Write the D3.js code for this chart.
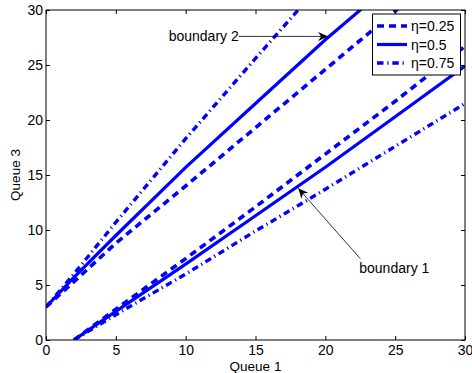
<!DOCTYPE html>
<html><head><meta charset="utf-8">
<script src="https://cdn.jsdelivr.net/npm/d3@7"></script>
<style>body{margin:0;background:#fff}svg{display:block}text{font-family:"Liberation Sans",Arial,sans-serif;fill:#000}</style>
</head><body><svg id="c" width="472" height="373"></svg>
<script>
// ---- data ----
const xTicks = [0, 5, 10, 15, 20, 25, 30];
const yTicks = [0, 5, 10, 15, 20, 25, 30];
const seriesNames = ["\u03b7=0.25", "\u03b7=0.5", "\u03b7=0.75"];
// boundary 2 (upper curves), sampled x positions
const upperX = [0, 2, 5, 10, 15, 20, 25, 30];
const upper025 = [3, 5.3, 8.8, 14.0, 19.3, 24.6, 29.9, 35.2];
const upper050 = [3, 5.7, 9.5, 15.7, 21.5, 27.3, 32.7, 38.2];
const upper075 = [3, 6.0, 10.7, 18.3, 25.6, 32.8, 40.0, 47.2];
// boundary 1 (lower curves)
const lowerX = [2, 5, 10, 15, 20, 25, 30];
const lower025 = [0, 2.8, 7.4, 12.1, 16.9, 21.7, 26.7];
const lower050 = [0, 2.6, 6.9, 11.3, 15.7, 20.3, 24.9];
const lower075 = [0, 2.3, 6.0, 9.9, 13.7, 17.6, 21.5];
// annotations: [label, tipX, tipY, tailX, tailY]
const annotations = [
  ["boundary 2", 20.2, 27.6, 13.8, 27.6],
  ["boundary 1", 18.06, 13.79, 22.5, 7.4]
];

// ---- layout ----
const m = {l: 46, t: 10, r: 465, b: 340};
const svg = d3.select("#c");
const x = d3.scaleLinear().domain([0, 30]).range([m.l, m.r]);
const y = d3.scaleLinear().domain([0, 30]).range([m.b, m.t]);

const styles = [
  {dash: "7,5", w: 3.6},
  {dash: null, w: 3.2},
  {dash: "6.5,3.8,1.2,3.8", w: 3.4}
];

svg.append("defs").append("clipPath").attr("id", "clip")
  .append("rect").attr("x", m.l).attr("y", m.t).attr("width", m.r - m.l).attr("height", m.b - m.t);

const line = d3.line().x(d => x(d[0])).y(d => y(d[1]));
const g = svg.append("g").attr("clip-path", "url(#clip)");
const series = [
  [upperX, upper025, 0], [upperX, upper050, 1], [upperX, upper075, 2],
  [lowerX, lower025, 0], [lowerX, lower050, 1], [lowerX, lower075, 2]
];
series.forEach(([xs, ys, si]) => {
  const st = styles[si];
  g.append("path").datum(xs.map((v, i) => [v, ys[i]]))
    .attr("d", line).attr("fill", "none").attr("stroke", "#0000ff")
    .attr("stroke-width", st.w).attr("stroke-dasharray", st.dash);
});

// axes
const fs = 14;
const ax = svg.append("g");
ax.append("g").attr("transform", `translate(0,${m.b})`)
  .call(d3.axisBottom(x).tickValues(xTicks).tickSize(-4).tickPadding(5).tickFormat(d3.format("d")));
ax.append("g").attr("transform", `translate(0,${m.t})`)
  .call(d3.axisTop(x).tickValues(xTicks).tickSize(-4).tickFormat(""));
ax.append("g").attr("transform", `translate(${m.l},0)`)
  .call(d3.axisLeft(y).tickValues(yTicks).tickSize(-4).tickPadding(3).tickFormat(d3.format("d")));
ax.append("g").attr("transform", `translate(${m.r},0)`)
  .call(d3.axisRight(y).tickValues(yTicks).tickSize(-4).tickFormat(""));
ax.selectAll(".domain").remove();
ax.selectAll("line").attr("stroke", "#000");
ax.selectAll("text").attr("font-size", fs).attr("font-family", "Liberation Sans, Arial, sans-serif").attr("fill", "#000");
svg.append("rect").attr("x", m.l).attr("y", m.t).attr("width", m.r - m.l).attr("height", m.b - m.t)
  .attr("fill", "none").attr("stroke", "#000").attr("stroke-width", 1);

// axis labels
svg.append("text").attr("x", (m.l + m.r) / 2).attr("y", 371).attr("text-anchor", "middle")
  .attr("font-size", 13.5).text("Queue 1");
svg.append("text").attr("transform", `translate(20,${(m.t + m.b) / 2}) rotate(-90)`)
  .attr("text-anchor", "middle").attr("font-size", 13.5).text("Queue 3");

// annotations
annotations.forEach(([lab, tx, ty, sx, sy], i) => {
  const x1 = x(sx), y1 = y(sy), x2 = x(tx), y2 = y(ty);
  svg.append("line").attr("x1", x1).attr("y1", y1).attr("x2", x2).attr("y2", y2)
    .attr("stroke", "#000").attr("stroke-width", 0.8);
  const ang = Math.atan2(y2 - y1, x2 - x1) * 180 / Math.PI;
  svg.append("path").attr("d", "M0,0 L-10,-4.5 L-7,0 L-10,4.5 Z")
    .attr("transform", `translate(${x2},${y2}) rotate(${ang})`).attr("fill", "#000");
  if (i === 0) {
    svg.append("text").attr("x", x1).attr("y", y1 + 5).attr("text-anchor", "end")
      .attr("font-size", fs).text(lab);
  } else {
    svg.append("text").attr("x", x1 - 1).attr("y", y1 + 14).attr("text-anchor", "start")
      .attr("font-size", fs).text(lab);
  }
});

// legend
const lg = svg.append("g");
lg.append("rect").attr("x", 372.5).attr("y", 14).attr("width", 88).attr("height", 61)
  .attr("fill", "#fff").attr("stroke", "#000").attr("stroke-width", 1);
seriesNames.forEach((n, i) => {
  const yy = 26 + i * 18.5;
  lg.append("line").attr("x1", 377).attr("x2", 407).attr("y1", yy).attr("y2", yy)
    .attr("stroke", "#0000ff").attr("stroke-width", styles[i].w).attr("stroke-dasharray", styles[i].dash);
  lg.append("text").attr("x", 411).attr("y", yy + 5).attr("font-size", fs).text(n);
});
</script></body></html>
